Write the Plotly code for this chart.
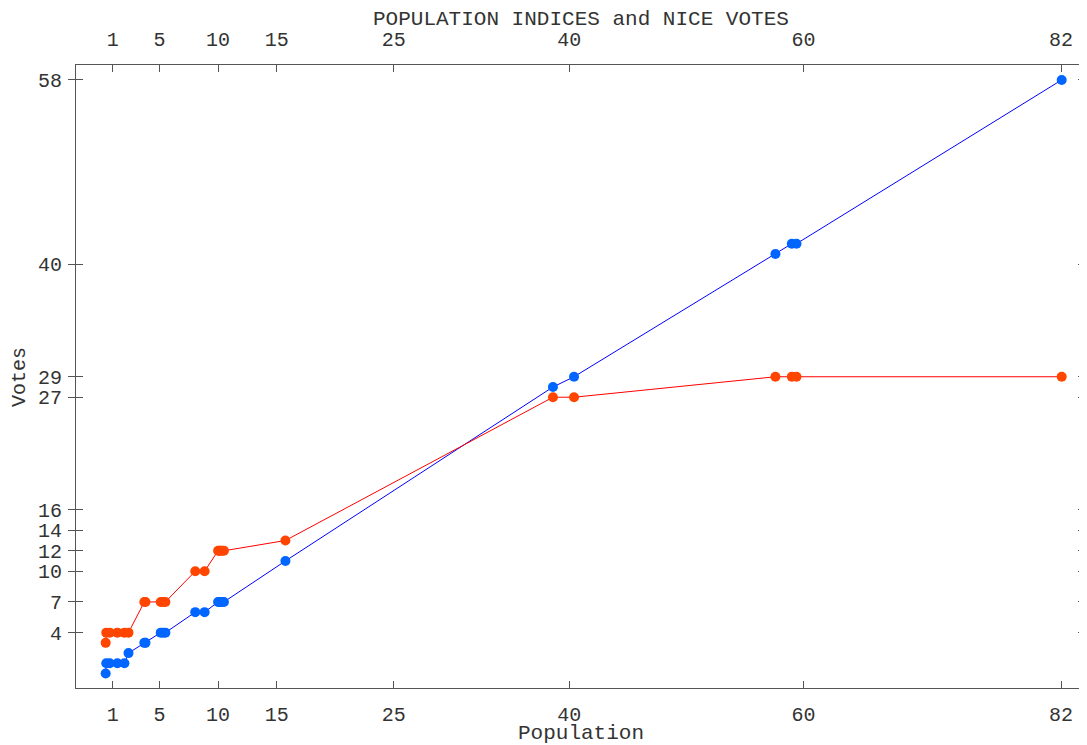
import plotly.graph_objects as go

# Population (millions) of each member state, sorted
population = [0.4, 0.45, 0.75, 1.4, 2.0, 2.35, 3.7, 3.8, 5.1, 5.3, 5.5,
              8.05, 8.85, 10.0, 10.1, 10.2, 10.35, 10.5, 15.75,
              38.6, 40.4, 57.6, 59.0, 59.4, 82.05]
# Population index votes (blue)
population_index = [0, 1, 1, 1, 1, 2, 3, 3, 4, 4, 4,
                    6, 6, 7, 7, 7, 7, 7, 11,
                    28, 29, 41, 42, 42, 58]
# Nice treaty votes (red)
nice_votes = [3, 4, 4, 4, 4, 4, 7, 7, 7, 7, 7,
              10, 10, 12, 12, 12, 12, 12, 13,
              27, 27, 29, 29, 29, 29]

x_ticks = [1, 5, 10, 15, 25, 40, 60, 82]
y_ticks = [4, 7, 10, 12, 14, 16, 27, 29, 40, 58]

FONT = "Liberation Mono"
FS = 20
TXT = "#333333"
AX = "#555555"

fig = go.Figure()
fig.add_trace(go.Scatter(
    x=population, y=population_index, mode="lines+markers",
    line=dict(color="#0000ff", width=1),
    marker=dict(color="#0066ff", size=10),
    name="Population index", showlegend=False))
fig.add_trace(go.Scatter(
    x=population, y=nice_votes, mode="lines+markers",
    line=dict(color="#ff0000", width=1),
    marker=dict(color="#ff4500", size=10),
    name="Nice votes", showlegend=False))
# invisible trace bound to top axis
fig.add_trace(go.Scatter(x=[population[0]], y=[nice_votes[0]], xaxis="x2",
                         mode="markers", marker=dict(opacity=0),
                         showlegend=False, hoverinfo="skip"))

xr = [-2.135, 84.04]
common_x = dict(range=xr, tickmode="array", tickvals=x_ticks,
                ticktext=[str(v) for v in x_ticks], automargin=False,
                ticks="inside", ticklen=7, tickcolor=AX, tickwidth=1,
                showgrid=False, zeroline=False, showline=True, linecolor=AX,
                linewidth=1, tickfont=dict(family=FONT, size=FS, color=TXT))

y_text = [f"{v}<span style='font-size:15px'>\u00a0</span>" for v in y_ticks]

fig.update_layout(
    width=1079, height=737,
    margin=dict(l=68, r=2, t=57, b=57, autoexpand=False),
    paper_bgcolor="white", plot_bgcolor="white",
    xaxis=dict(**common_x, side="bottom", ticklabelstandoff=8),
    xaxis2=dict(**common_x, side="top", overlaying="x", ticklabelstandoff=10),
    yaxis=dict(range=[-1.41, 59.46], tickmode="array", tickvals=y_ticks,
               ticktext=y_text, automargin=False,
               ticks="inside", ticklen=7, tickcolor=AX, mirror="allticks",
               showgrid=False, zeroline=False, showline=True, linecolor=AX,
               linewidth=1,
               tickfont=dict(family=FONT, size=FS, color=TXT)),
    annotations=[
        dict(text="POPULATION INDICES and NICE VOTES", xref="paper", yref="paper",
             x=0.5005, y=1.0725, xanchor="center", yanchor="middle", showarrow=False,
             font=dict(family=FONT, size=21, color=TXT)),
        dict(text="Population", xref="paper", yref="paper",
             x=0.5005, y=-0.0738, xanchor="center", yanchor="middle", showarrow=False,
             font=dict(family=FONT, size=21, color=TXT)),
        dict(text="Votes", xref="paper", yref="paper", textangle=-90,
             x=-0.0560, y=0.5, xanchor="center", yanchor="middle", showarrow=False,
             font=dict(family=FONT, size=FS, color=TXT)),
    ],
)

fig.write_html("out.html")
